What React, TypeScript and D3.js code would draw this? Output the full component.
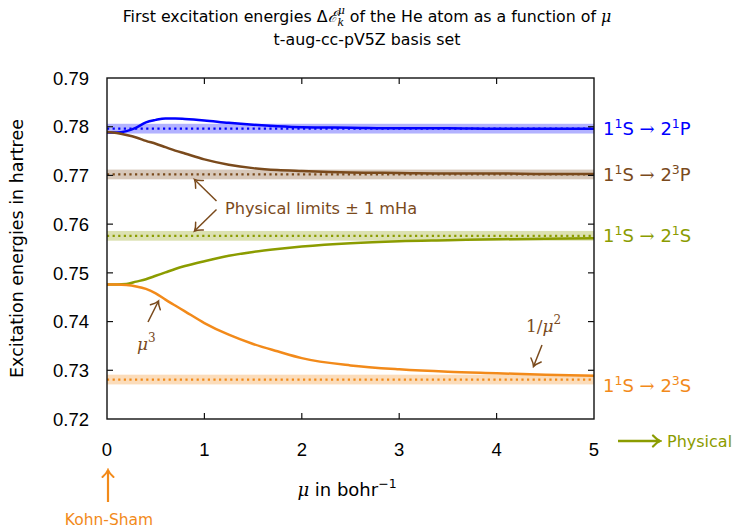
import React from 'react';
import * as d3 from 'd3';

// mu grid (bohr^-1) and excitation energies (hartree)
const mu = [0, 0.1, 0.2, 0.3, 0.4, 0.5, 0.6, 0.7, 0.8, 1.0, 1.25, 1.5, 1.75, 2.0, 2.5, 3.0, 3.5, 4.0, 4.5, 5.0];
const e21P = [0.7788, 0.7788, 0.7791, 0.7798, 0.7809, 0.7814, 0.7817, 0.7817, 0.7816, 0.7813, 0.7808, 0.7804, 0.7801, 0.7799, 0.7798, 0.7797, 0.7797, 0.7796, 0.7796, 0.7796];
const e23P = [0.7789, 0.7787, 0.7783, 0.7778, 0.7771, 0.7765, 0.7758, 0.7751, 0.7745, 0.7733, 0.7722, 0.7715, 0.7711, 0.7709, 0.7706, 0.7705, 0.7704, 0.7704, 0.7703, 0.7703];
const e21S = [0.7476, 0.7476, 0.7477, 0.7482, 0.7487, 0.7494, 0.7501, 0.7508, 0.7514, 0.7524, 0.7535, 0.7543, 0.7549, 0.7554, 0.7561, 0.7565, 0.7567, 0.7569, 0.7570, 0.7571];
const e23S = [0.7476, 0.7476, 0.7475, 0.7472, 0.7467, 0.7458, 0.7445, 0.7433, 0.7421, 0.7397, 0.7373, 0.7354, 0.7339, 0.7325, 0.7310, 0.7302, 0.7297, 0.7294, 0.7291, 0.7289];

const limits = [0.7796, 0.7702, 0.7576, 0.7281];
const states = [['1', 'P'], ['3', 'P'], ['1', 'S'], ['3', 'S']];
const colors = ['#0000ff', '#7a4a1c', '#8b9c00', '#f28a1a'];

const xTicks = [0, 1, 2, 3, 4, 5];
const yTicks = [0.72, 0.73, 0.74, 0.75, 0.76, 0.77, 0.78, 0.79];

const W = 732;
const H = 528;
const left = 107, right = 594, top = 78, bottom = 419;
const brown = '#7a4a1c';
const tickFont = '"Liberation Sans", Arial, sans-serif';
const font = '"DejaVu Sans", sans-serif';
const serif = '"DejaVu Serif", serif';

const Head = ({ id, color, w }: { id: string; color: string; w: number }) => (
  <marker id={id} viewBox="-9 -7 11 14" refX="0" refY="0" markerWidth="11" markerHeight="14"
    markerUnits="userSpaceOnUse" orient="auto">
    <path d="M-7,-5.5 Q-3,-1.2 0,0 Q-3,1.2 -7,5.5" fill="none" stroke={color} strokeWidth={w} strokeLinecap="round" />
  </marker>
);

const App = () => {
  const x = d3.scaleLinear().domain([0, 5]).range([left, right]);
  const y = d3.scaleLinear().domain([0.72, 0.79]).range([bottom, top]);

  const series = [e21P, e23P, e21S, e23S];
  const line = d3.line<number>()
    .x((_, i) => x(mu[i]))
    .y(d => y(d))
    .curve(d3.curveMonotoneX);

  return (
    <div style={{ position: 'absolute', left: 0, top: 0 }}>
      <svg width={W} height={H} style={{ display: 'block', fontFamily: font }}>
        <defs>
          <Head id="head" color={brown} w={1.5} />
          <Head id="headO" color={colors[3]} w={2} />
          <Head id="headG" color={colors[2]} w={2.2} />
        </defs>

        {/* title */}
        <text x={367} y={22} textAnchor="middle" fontSize={15.8}>
          First excitation energies Δ
          <tspan fontFamily={serif} fontStyle="italic">ℰ</tspan>
          <tspan dy={4} fontSize={11} fontStyle="italic" fontFamily={serif}>k</tspan>
          <tspan dx={-6.5} dy={-12} fontSize={11} fontStyle="italic" fontFamily={serif}>μ</tspan>
          <tspan dy={8}> of the He atom as a function of </tspan>
          <tspan fontStyle="italic" fontFamily={serif}>μ</tspan>
        </text>
        <text x={367} y={45} textAnchor="middle" fontSize={15.8}>t-aug-cc-pV5Z basis set</text>

        {/* physical limit bands */}
        {limits.map((v, i) => (
          <g key={'b' + i}>
            <rect x={x(0)} width={x(5) - x(0)} y={y(v + 0.001)} height={y(v - 0.001) - y(v + 0.001)}
              fill={colors[i]} opacity={0.3} />
            <line x1={x(0)} x2={x(5)} y1={y(v)} y2={y(v)} stroke={colors[i]} strokeWidth={2.2}
              strokeDasharray="2.2 3.4" />
          </g>
        ))}

        {/* curves */}
        {series.map((s, i) => (
          <path key={'c' + i} d={line(s) || ''} fill="none" stroke={colors[i]} strokeWidth={2.5} />
        ))}

        {/* frame and ticks */}
        <rect x={left} y={top} width={right - left} height={bottom - top} fill="none" stroke="#111" strokeWidth={1.4} />
        {xTicks.slice(1, -1).map(t => (
          <g key={'xt' + t}>
            <line x1={x(t)} x2={x(t)} y1={bottom} y2={bottom - 6} stroke="#111" strokeWidth={1.2} />
            <line x1={x(t)} x2={x(t)} y1={top} y2={top + 6} stroke="#111" strokeWidth={1.2} />
          </g>
        ))}
        {yTicks.slice(1, -1).map(t => (
          <g key={'yt' + t}>
            <line x1={left} x2={left + 6} y1={y(t)} y2={y(t)} stroke="#111" strokeWidth={1.2} />
            <line x1={right} x2={right - 6} y1={y(t)} y2={y(t)} stroke="#111" strokeWidth={1.2} />
          </g>
        ))}
        {xTicks.map(t => (
          <text key={'xl' + t} x={x(t)} y={456} textAnchor="middle" fontSize={18.5} fontFamily={tickFont}>{t}</text>
        ))}
        {yTicks.map(t => (
          <text key={'yl' + t} x={89} y={y(t)} dy="0.36em" textAnchor="end" fontSize={18.5} fontFamily={tickFont}>{t.toFixed(2)}</text>
        ))}

        {/* axis titles */}
        <text x={347} y={496} textAnchor="middle" fontSize={18}>
          <tspan fontStyle="italic" fontFamily={serif}>μ</tspan> in bohr
          <tspan dy={-8} fontSize={12.5}>−1</tspan>
        </text>
        <text transform={`translate(23,${(top + bottom) / 2 + 0}) rotate(-90)`} textAnchor="middle" fontSize={17.5}>
          Excitation energies in hartree
        </text>

        {/* right labels */}
        {limits.map((v, i) => (
          <text key={'rl' + i} x={603} y={y(v) + (i === 3 ? 6 : 0)} dy="0.36em" fontSize={18} fill={colors[i]}>
            1<tspan dy={-7} fontSize={12.5}>1</tspan>
            <tspan dy={7}>S</tspan>
            <tspan fontFamily={serif}> → </tspan>
            <tspan>2</tspan>
            <tspan dy={-7} fontSize={12.5}>{states[i][0]}</tspan>
            <tspan dy={7}>{states[i][1]}</tspan>
          </text>
        ))}

        {/* annotations */}
        <line x1={216.5} y1={201} x2={194.5} y2={179.5} stroke={brown} strokeWidth={1.5} markerEnd="url(#head)" />
        <line x1={216.5} y1={209.5} x2={194.5} y2={231} stroke={brown} strokeWidth={1.5} markerEnd="url(#head)" />
        <text x={225} y={214} fontSize={16.2} fill={brown}>Physical limits ± 1 mHa</text>

        <line x1={148} y1={322} x2={158.5} y2={301} stroke={brown} strokeWidth={1.5} markerEnd="url(#head)" />
        <text x={137} y={350} fontSize={17} fill={brown} fontFamily={serif}>
          <tspan fontStyle="italic">μ</tspan>
          <tspan dy={-8} fontSize={12}>3</tspan>
        </text>

        <line x1={542} y1={345} x2={533.5} y2={366.5} stroke={brown} strokeWidth={1.5} markerEnd="url(#head)" />
        <text x={526} y={332} fontSize={17} fill={brown} fontFamily={serif}>
          1/<tspan fontStyle="italic">μ</tspan>
          <tspan dy={-8} fontSize={12}>2</tspan>
        </text>

        {/* bottom markers */}
        <line x1={108} y1={502} x2={108} y2={470} stroke={colors[3]} strokeWidth={2.2} markerEnd="url(#headO)" />
        <text x={109} y={525} textAnchor="middle" fontSize={15.5} fill={colors[3]}>Kohn-Sham</text>
        <line x1={618} y1={441} x2={660} y2={441} stroke={colors[2]} strokeWidth={2.6} markerEnd="url(#headG)" />
        <text x={667} y={447} fontSize={16} fill={colors[2]}>Physical</text>
      </svg>
    </div>
  );
};

export default App;
